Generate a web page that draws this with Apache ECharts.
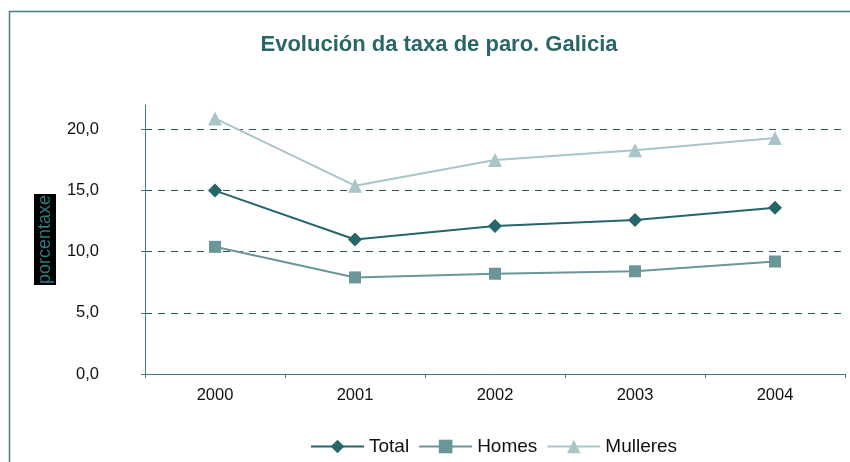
<!DOCTYPE html>
<html>
<head>
<meta charset="utf-8">
<script src="https://cdn.jsdelivr.net/npm/echarts@6/dist/echarts.min.js"></script>
<style>
  html, body { margin: 0; padding: 0; background: #fff; }
  #chart { width: 850px; height: 462px; }
</style>
</head>
<body>
<div id="chart"></div>
<script>
// datos
const anos = ['2000', '2001', '2002', '2003', '2004'];
const total = [15.0, 11.0, 12.1, 12.6, 13.6];
const homes = [10.4, 7.9, 8.2, 8.4, 9.2];
const mulleres = [20.9, 15.4, 17.5, 18.3, 19.3];

const teal = '#2a6569';
const gridColor = '#24595c';
const axisColor = '#3f7f82';
const font = 'Liberation Sans, Arial, sans-serif';

let chart = echarts.init(document.getElementById('chart'));

let option = {
  backgroundColor: '#fff',
  animation: false,
  title: {
    text: 'Evolución da taxa de paro. Galicia',
    left: 434,
    textAlign: 'center',
    top: 29,
    textStyle: { color: teal, fontFamily: font, fontSize: 22, fontWeight: 'bold' }
  },
  graphic: [{
    type: 'rect',
    shape: { x: 9.5, y: 11.5, width: 900, height: 500 },
    style: { fill: 'none', stroke: axisColor, lineWidth: 1.5 },
    silent: true
  }],
  legend: {
    top: 432,
    left: 305,
    itemWidth: 53,
    itemHeight: 17,
    itemGap: 9,
    textStyle: { fontFamily: font, fontSize: 19, color: '#111' },
    data: ['Total', 'Homes', 'Mulleres']
  },
  grid: { left: 145, right: 5, top: 105, bottom: 88 },
  xAxis: {
    type: 'category',
    data: anos,
    boundaryGap: true,
    axisLine: { lineStyle: { color: axisColor, width: 1 } },
    axisTick: { show: true, length: 4, lineStyle: { color: axisColor } },
    axisLabel: { color: '#111', fontFamily: font, fontSize: 16.5, margin: 13 }
  },
  yAxis: {
    type: 'value',
    min: 0,
    max: 22,
    interval: 5,
    name: 'porcentaxe',
    nameLocation: 'middle',
    nameRotate: 90,
    nameGap: 88,
    nameTextStyle: {
      color: '#2d7a80', fontFamily: font, fontSize: 18, lineHeight: 22,
      backgroundColor: '#000', padding: [0, 1, 0, 1]
    },
    axisLine: { show: true, lineStyle: { color: axisColor, width: 1 } },
    axisTick: { show: true, inside: false, length: 4, lineStyle: { color: axisColor } },
    axisLabel: {
      color: '#111', fontFamily: font, fontSize: 16.5, margin: 46,
      showMaxLabel: false,
      formatter: v => v.toFixed(1).replace('.', ',')
    },
    splitLine: {
      show: true,
      // sen liña en 0 (eixo) nin no tope 22
      lineStyle: {
        color: ['transparent', gridColor, gridColor, gridColor, gridColor, 'transparent'],
        type: [7, 6],
        width: 1
      }
    }
  },
  series: [
    {
      name: 'Total', type: 'line', data: total,
      symbol: 'diamond', symbolSize: 14,
      itemStyle: { color: '#25666a' },
      lineStyle: { color: '#25666a', width: 2 }
    },
    {
      name: 'Homes', type: 'line', data: homes,
      symbol: 'rect', symbolSize: 12,
      itemStyle: { color: '#6a9699' },
      lineStyle: { color: '#6a9699', width: 2 }
    },
    {
      name: 'Mulleres', type: 'line', data: mulleres,
      symbol: 'triangle', symbolSize: 14,
      itemStyle: { color: '#a9c5c7' },
      lineStyle: { color: '#a9c5c7', width: 2 }
    }
  ]
};

chart.setOption(option);
</script>
</body>
</html>
